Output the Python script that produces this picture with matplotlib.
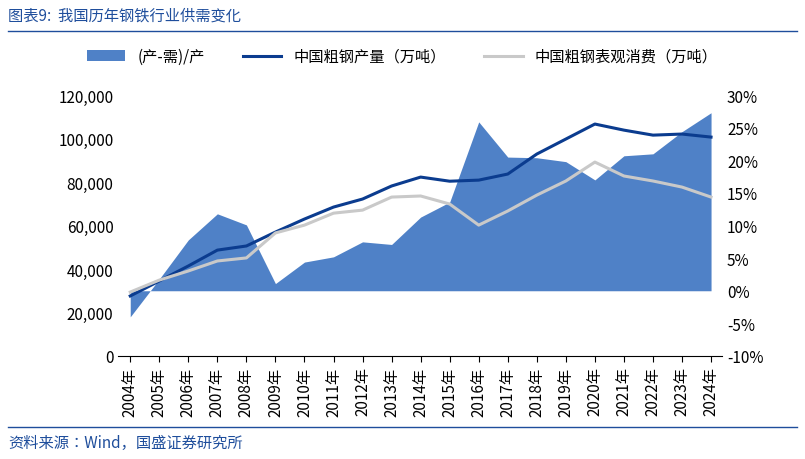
import matplotlib
matplotlib.use("Agg")
import matplotlib.pyplot as plt
from matplotlib import font_manager
import numpy as np
from matplotlib.ticker import FuncFormatter

names = sorted({f.name for f in font_manager.fontManager.ttflist})
cjk = [n for n in names if 'CJK' in n]
plt.rcParams['font.family'] = cjk + ['DejaVu Sans'] if cjk else ['DejaVu Sans']

years = [str(y) + "年" for y in range(2004, 2025)]
gap_pct = [-4.0, 1.8, 7.8, 11.8, 10.1, 1.1, 4.4, 5.2, 7.5, 7.1, 11.3, 13.6, 25.9, 20.5, 20.4, 19.8, 17.0, 20.7, 21.0, 24.4, 27.3]
production = [27600, 34500, 41400, 48700, 50600, 57000, 63000, 68500, 72200, 78200, 82300, 80400, 80900, 83700, 92900, 99800, 106700, 103900, 101600, 102100, 100700]
consumption = [29400, 34900, 39100, 43700, 45100, 56600, 60200, 65700, 67100, 73100, 73600, 69900, 60200, 66700, 74000, 80500, 89200, 82800, 80500, 77700, 73100]

fig = plt.figure(figsize=(8.05, 4.6), dpi=100)
ax = fig.add_axes([0.147, 0.224, 0.75, 0.567])
ax2 = ax.twinx()
x = np.arange(len(years))

ax2.fill_between(x, 0, gap_pct, color='#4f81c7', lw=0, label='(产-需)/产', zorder=1)
ax.set_zorder(ax2.get_zorder() + 1)
ax.patch.set_visible(False)
ax.plot(x, production, color='#0b3c8f', lw=2.2, label='中国粗钢产量（万吨）')
ax.plot(x, consumption, color='#c9c9c9', lw=2.2, label='中国粗钢表观消费（万吨）')

ax.set_ylim(0, 120000)
ax.set_yticks(range(0, 120001, 20000))
ax.yaxis.set_major_formatter(FuncFormatter(lambda v, p: f"{int(v):,}"))
ax2.set_ylim(-10, 30)
ax2.set_yticks(range(-10, 31, 5))
ax2.yaxis.set_major_formatter(FuncFormatter(lambda v, p: f"{int(v)}%"))
ax.set_xlim(-0.41, 20.38)
ax.set_xticks(x)
ax.set_xticklabels(years, rotation=90)
for a in (ax, ax2):
    a.tick_params(labelsize=11, length=0)
    for s in a.spines.values():
        s.set_visible(False)
ax.tick_params(axis='x', length=4, direction='out')
ax.spines['bottom'].set_visible(True)
ax.spines['bottom'].set_color('black')

h1, l1 = ax2.get_legend_handles_labels()
h2, l2 = ax.get_legend_handles_labels()
fig.legend(h1 + h2, l1 + l2, loc='center', bbox_to_anchor=(0.5, 0.875), ncol=3,
           frameon=False, fontsize=11, handlelength=2.5, columnspacing=2.5)

fig.text(0.01, 0.965, '图表9:  我国历年钢铁行业供需变化', fontsize=11, color='#1f4e9c', style='italic', va='center')
fig.add_artist(plt.Line2D([0.01, 0.99], [0.93, 0.93], color='#1f4e9c', lw=1))
fig.add_artist(plt.Line2D([0.01, 0.99], [0.07, 0.07], color='#1f4e9c', lw=1))
fig.text(0.01, 0.035, '资料来源：Wind，国盛证券研究所', fontsize=11, color='#1f4e9c', style='italic', va='center')

fig.savefig('out.png', dpi=100)
